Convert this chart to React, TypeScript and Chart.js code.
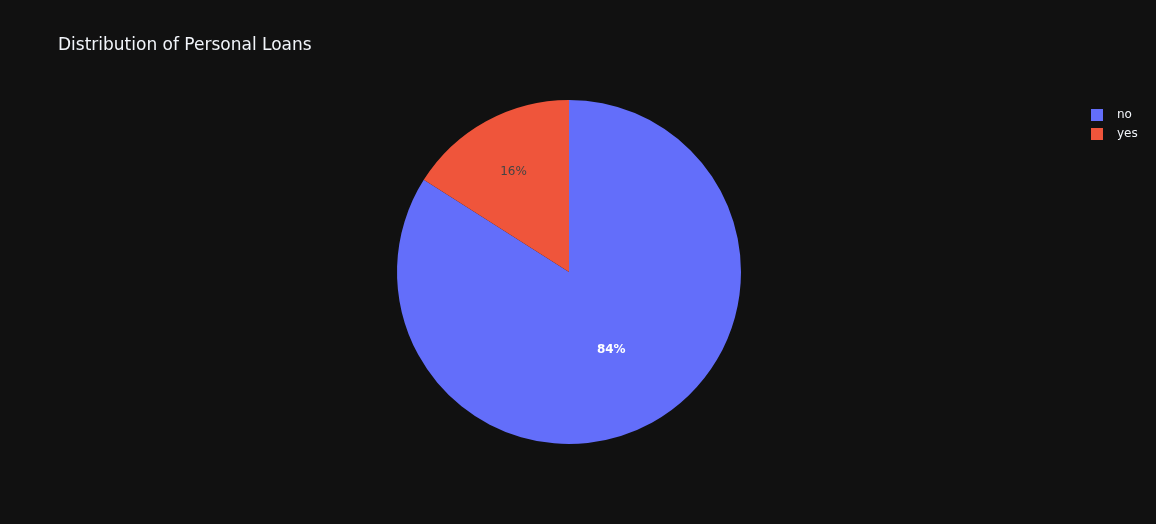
import React, { useEffect, useRef } from "react";
import { Chart, registerables } from "chart.js";

Chart.register(...registerables);

const categories = ["no", "yes"];
const values = [84, 16];
const colors = ["#636efa", "#ef553b"];
const labelColors = ["#ffffff", "#444444"];
const labelWeights = ["bold", "normal"];
const labelRadiusFrac = [0.51, 0.67];
const titleText = "Distribution of Personal Loans";

const FONT = '"DejaVu Sans", Verdana, sans-serif';

const overlayPlugin = {
  id: "overlay",
  afterDraw(chart: any) {
    const ctx = chart.ctx as CanvasRenderingContext2D;
    const meta = chart.getDatasetMeta(0);
    const total = values.reduce((a, b) => a + b, 0);
    ctx.save();
    // slice labels
    meta.data.forEach((arc: any, i: number) => {
      const p = arc.getProps(["x", "y", "startAngle", "endAngle", "outerRadius"], true);
      const mid = (p.startAngle + p.endAngle) / 2;
      const r = p.outerRadius * labelRadiusFrac[i];
      const x = p.x + Math.cos(mid) * r;
      const y = p.y + Math.sin(mid) * r + 1;
      ctx.font = `${labelWeights[i]} 12px ${FONT}`;
      ctx.fillStyle = labelColors[i];
      ctx.textAlign = "center";
      ctx.textBaseline = "middle";
      ctx.fillText(Math.round((values[i] / total) * 100) + "%", x, y);
    });
    // title
    ctx.font = `17px ${FONT}`;
    ctx.fillStyle = "#f2f5fa";
    ctx.textAlign = "left";
    ctx.textBaseline = "alphabetic";
    ctx.fillText(titleText, 58, 50);
    // legend
    categories.forEach((c, i) => {
      const y0 = 109 + i * 19;
      ctx.fillStyle = colors[i];
      ctx.fillRect(1091, y0, 12, 12);
      ctx.font = `12px ${FONT}`;
      ctx.fillStyle = "#f2f5fa";
      ctx.textBaseline = "middle";
      ctx.fillText(c, 1117, y0 + 6);
    });
    ctx.restore();
  },
};

export default function App() {
  const ref = useRef<HTMLCanvasElement | null>(null);
  useEffect(() => {
    document.body.style.margin = "0";
    document.body.style.background = "#111111";
    const chart = new Chart(ref.current as HTMLCanvasElement, {
      type: "pie",
      data: {
        labels: categories,
        datasets: [
          {
            data: values,
            backgroundColor: colors,
            borderWidth: 0,
          },
        ],
      },
      options: {
        animation: false,
        responsive: false,
        maintainAspectRatio: false,
        layout: { padding: { left: 397, right: 415, top: 100, bottom: 80 } },
        plugins: {
          legend: { display: false },
          title: { display: false },
          tooltip: { enabled: false },
        },
      },
      plugins: [overlayPlugin],
    });
    return () => chart.destroy();
  }, []);
  return (
    <div style={{ width: 1156, height: 524, background: "#111111" }}>
      <canvas ref={ref} width={1156} height={524} style={{ display: "block" }} />
    </div>
  );
}
